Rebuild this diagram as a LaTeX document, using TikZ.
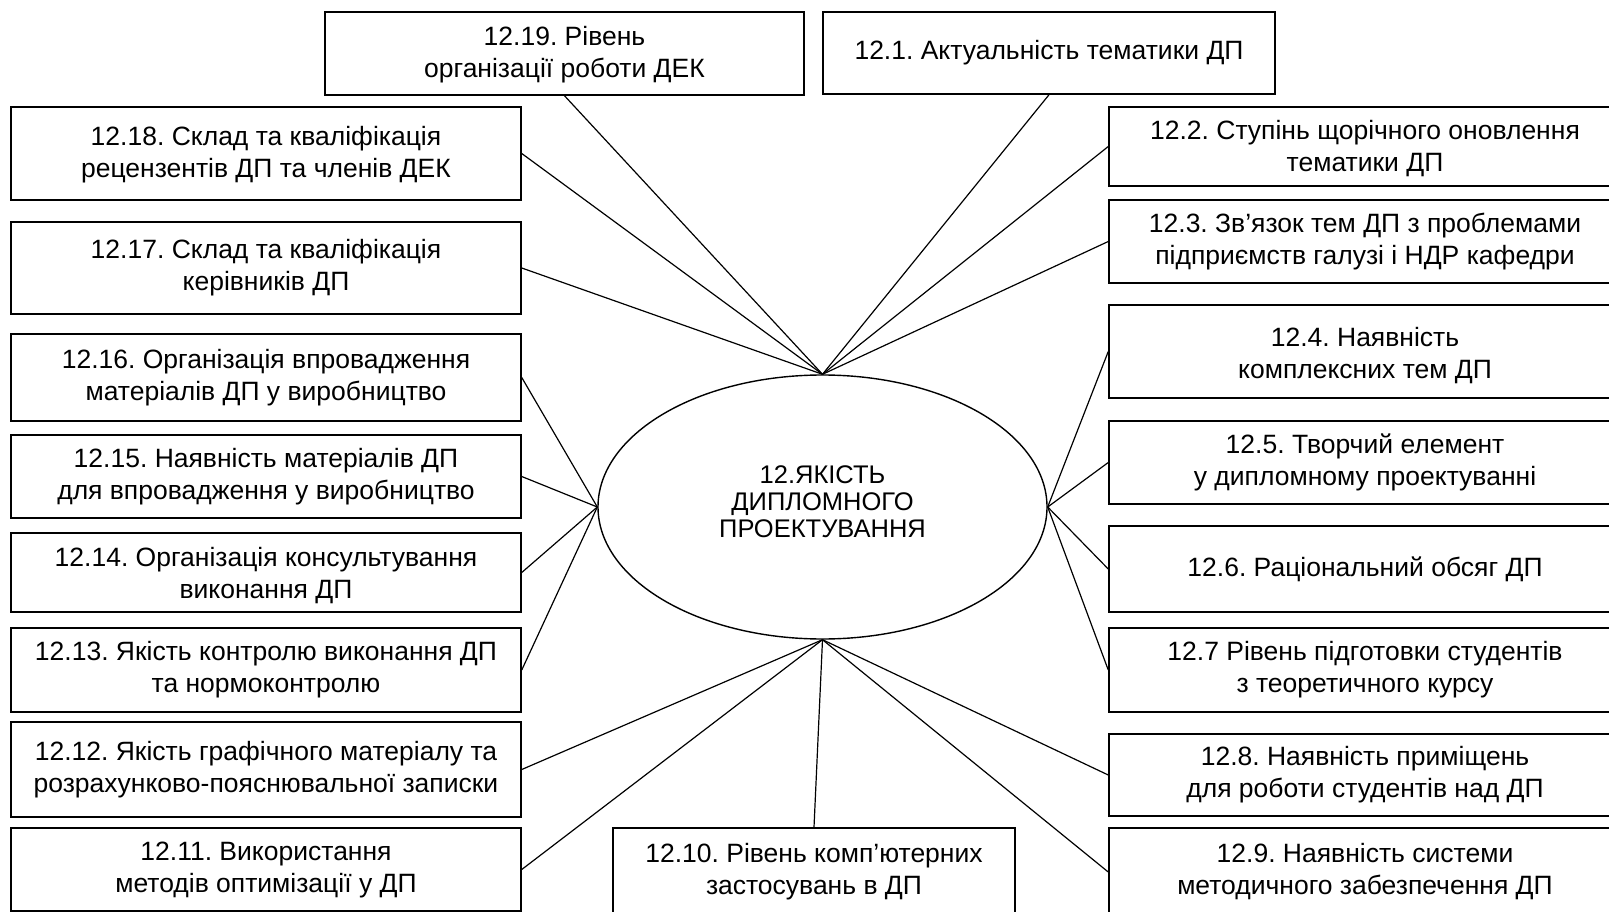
\documentclass[tikz,border=0pt]{standalone}
\usepackage{fontspec}
\setmainfont{Liberation Sans}
\usetikzlibrary{shapes.geometric}
\frenchspacing
\begin{document}
\begin{tikzpicture}[x=1pt,y=-1pt,
  box/.style={draw, line width=1.5pt, inner sep=0pt, align=center,
              font=\fontsize{26.5}{32}\selectfont,
              text height=51pt, text depth=6pt},
  oneline/.style={text height={}, text depth={}},
  lbox/.style={box, minimum width=510pt},
  rbox/.style={box, minimum width=512pt},
  link/.style={line width=1.2pt}]
\useasboundingbox (0,0) rectangle (1609,912);
\clip (0,0) rectangle (1609,912);

% central ellipse
\node[draw, ellipse, line width=1.4pt, minimum width=449pt, minimum height=264pt, inner sep=0pt] (e) at (822.5,507) {};
\node[align=center, inner sep=0pt, font=\fontsize{25.5}{27}\selectfont] (etext) at (822.5,502)
  {12.ЯКІСТЬ\\ДИПЛОМНОГО\\ПРОЕКТУВАННЯ};

% top row
\node[box, minimum width=479pt, minimum height=83pt, text height=55pt] (b19) at (564.5,53.5)
  {12.19. Рівень\\організації роботи ДЕК};
\node[box, oneline, minimum width=452pt, minimum height=82pt] (b1) at (1049,53)
  {12.1. Актуальність тематики ДП};

% left column
\node[lbox, minimum height=93pt, text height=54pt] (b18) at (266,153.5)
  {12.18. Склад та кваліфікація\\рецензентів ДП та членів ДЕК};
\node[lbox, minimum height=92pt] (b17) at (266,268)
  {12.17. Склад та кваліфікація\\керівників ДП};
\node[lbox, minimum height=87pt] (b16) at (266,377.5)
  {12.16. Організація впровадження\\матеріалів ДП у виробництво};
\node[lbox, minimum height=83pt] (b15) at (266,476.5)
  {12.15. Наявність матеріалів ДП\\для впровадження у виробництво};
\node[lbox, minimum height=79pt, text height=58pt] (b14) at (266,572.5)
  {12.14. Організація консультування\\виконання ДП};
\node[lbox, minimum height=84pt] (b13) at (266,670)
  {12.13. Якість контролю виконання ДП\\та нормоконтролю};
\node[lbox, minimum height=95pt] (b12) at (266,769.5)
  {12.12. Якість графічного матеріалу та\\розрахунково-пояснювальної записки};
\node[lbox, minimum height=83pt] (b11) at (266,869.5)
  {12.11. Використання\\методів оптимізації у ДП};

% right column
\node[rbox, minimum height=79pt, text height=56pt] (b2) at (1365,146.5)
  {12.2. Ступінь щорічного оновлення\\тематики ДП};
\node[rbox, minimum height=83pt] (b3) at (1365,241.5)
  {12.3. Зв’язок тем ДП з проблемами\\підприємств галузі і НДР кафедри};
\node[rbox, minimum height=93pt, text height=60pt] (b4) at (1365,351.5)
  {12.4. Наявність\\комплексних тем ДП};
\node[rbox, minimum height=83pt] (b5) at (1365,462.5)
  {12.5. Творчий елемент\\у дипломному проектуванні};
\node[rbox, oneline, minimum height=86pt] (b6) at (1365,569)
  {12.6. Раціональний обсяг ДП};
\node[rbox, minimum height=84pt] (b7) at (1365,670)
  {12.7 Рівень підготовки студентів\\з теоретичного курсу};
\node[rbox, minimum height=82pt] (b8) at (1365,775)
  {12.8. Наявність приміщень\\для роботи студентів над ДП};
\node[rbox, minimum height=88pt] (b9) at (1365,872)
  {12.9. Наявність системи\\методичного забезпечення ДП};

% bottom middle
\node[box, minimum width=402pt, minimum height=88pt] (b10) at (814,872)
  {12.10. Рівень комп’ютерних\\застосувань в ДП};

% connectors from the top of the ellipse
\draw[link] (e.north) -- (b19.south);
\draw[link] (e.north) -- (b18.east);
\draw[link] (e.north) -- (b17.east);
\draw[link] (e.north) -- (b1.south);
\draw[link] (e.north) -- (b2.west);
\draw[link] (e.north) -- (b3.west);
% from the left end
\draw[link] (e.west) -- (b16.east);
\draw[link] (e.west) -- (b15.east);
\draw[link] (e.west) -- (b14.east);
\draw[link] (e.west) -- (b13.east);
% from the right end
\draw[link] (e.east) -- (b4.west);
\draw[link] (e.east) -- (b5.west);
\draw[link] (e.east) -- (b6.west);
\draw[link] (e.east) -- (b7.west);
% from the bottom
\draw[link] (e.south) -- (b12.east);
\draw[link] (e.south) -- (b11.east);
\draw[link] (e.south) -- (b10.north);
\draw[link] (e.south) -- (b8.west);
\draw[link] (e.south) -- (b9.west);
\end{tikzpicture}
\end{document}
